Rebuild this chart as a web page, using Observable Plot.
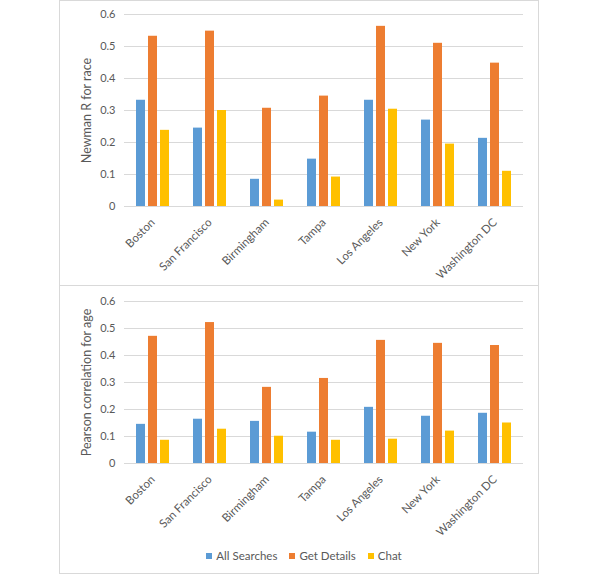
<!DOCTYPE html>
<html>
<head>
<meta charset="utf-8">
<script src="https://cdn.jsdelivr.net/npm/d3@7"></script>
<script src="https://cdn.jsdelivr.net/npm/@observablehq/plot@0.6"></script>
<style>
  html, body { margin: 0; padding: 0; background: #fff; }
  body { position: relative; width: 600px; height: 580px; font-family: Lato, sans-serif; }
  .panel { position: absolute; left: 59px; width: 480px; box-sizing: border-box; border: 1px solid #d9d9d9; background: #fff; overflow: hidden; }
  .panel svg { display: block; }
  #p1 { top: 0px; height: 286px; }
  #p2 { top: 285px; height: 289px; }
  #legend { position: absolute; left: 0; width: 478px; top: 253px; display: flex; justify-content: center; padding-left: 10px; box-sizing: border-box; }
  .leg { font-family: Lato, sans-serif !important; font-size: 11.5px !important; color: #595959 !important; margin: 0 !important; }
  .leg-swatch { margin-right: 12px !important; }
  .leg-swatch:last-child { margin-right: 0 !important; }
  .leg-swatch > svg { margin-right: 4px !important; }
  svg [aria-label^="fx-axis"] text { font-size: 11.5px; }
  svg [aria-label="y-axis label"] text, svg [aria-label="y-axis label"] { font-size: 12.5px; }
</style>
</head>
<body>
<div id="p1" class="panel"></div>
<div id="p2" class="panel"><div id="legend"></div></div>
<script>
const cities = ["Boston", "San Francisco", "Birmingham", "Tampa", "Los Angeles", "New York", "Washington DC"];
const series = ["All Searches", "Get Details", "Chat"];
const colors = ["#5B9BD5", "#ED7D31", "#FFC000"];
const yTicks = [0, 0.1, 0.2, 0.3, 0.4, 0.5, 0.6];

// Newman R for race
const raceAll = [0.332, 0.245, 0.085, 0.148, 0.332, 0.270, 0.213];
const raceDetails = [0.532, 0.548, 0.307, 0.345, 0.563, 0.510, 0.448];
const raceChat = [0.238, 0.300, 0.020, 0.092, 0.304, 0.195, 0.110];

// Pearson correlation for age
const ageAll = [0.145, 0.164, 0.156, 0.116, 0.208, 0.175, 0.186];
const ageDetails = [0.471, 0.522, 0.282, 0.315, 0.456, 0.445, 0.437];
const ageChat = [0.086, 0.127, 0.101, 0.086, 0.090, 0.120, 0.150];

function table(a, b, c) {
  const rows = [];
  cities.forEach((city, i) => {
    rows.push({city, series: series[0], value: a[i]});
    rows.push({city, series: series[1], value: b[i]});
    rows.push({city, series: series[2], value: c[i]});
  });
  return rows;
}

function panel(rows, label, height, marginTop, marginBottom) {
  return Plot.plot({
    width: 478,
    height,
    marginTop,
    marginBottom,
    marginLeft: 62,
    marginRight: 14,
    style: {fontFamily: "Lato, sans-serif", fontSize: "11px", color: "#595959", background: "transparent"},
    fx: {domain: cities, padding: 0, label: null, axis: "bottom", tickRotate: -45, tickSize: 0, tickPadding: 14},
    x: {domain: series, paddingInner: 0.21, paddingOuter: 0.865, axis: null},
    y: {domain: [0, 0.6], ticks: yTicks, tickSize: 0, tickPadding: 9, tickFormat: d => String(+d.toFixed(1)),
        label, labelAnchor: "center", labelArrow: "none", labelOffset: 42},
    color: {domain: series, range: colors},
    marks: [
      Plot.ruleY(yTicks, {stroke: "#d9d9d9", strokeOpacity: 1}),
      Plot.barY(rows, {fx: "city", x: "series", y: "value", fill: "series"})
    ]
  });
}

document.getElementById("p1").appendChild(panel(table(raceAll, raceDetails, raceChat), "Newman R for race", 284, 13, 79));
document.getElementById("p2").insertBefore(panel(table(ageAll, ageDetails, ageChat), "Pearson correlation for age", 287, 15, 110), document.getElementById("legend"));

const leg = Plot.legend({
  color: {domain: series, range: colors},
  legend: "swatches",
  swatchSize: 6,
  className: "leg",
  style: {fontFamily: "Lato, sans-serif", fontSize: "11.5px", color: "#595959"}
});
document.getElementById("legend").appendChild(leg);
</script>
</body>
</html>
